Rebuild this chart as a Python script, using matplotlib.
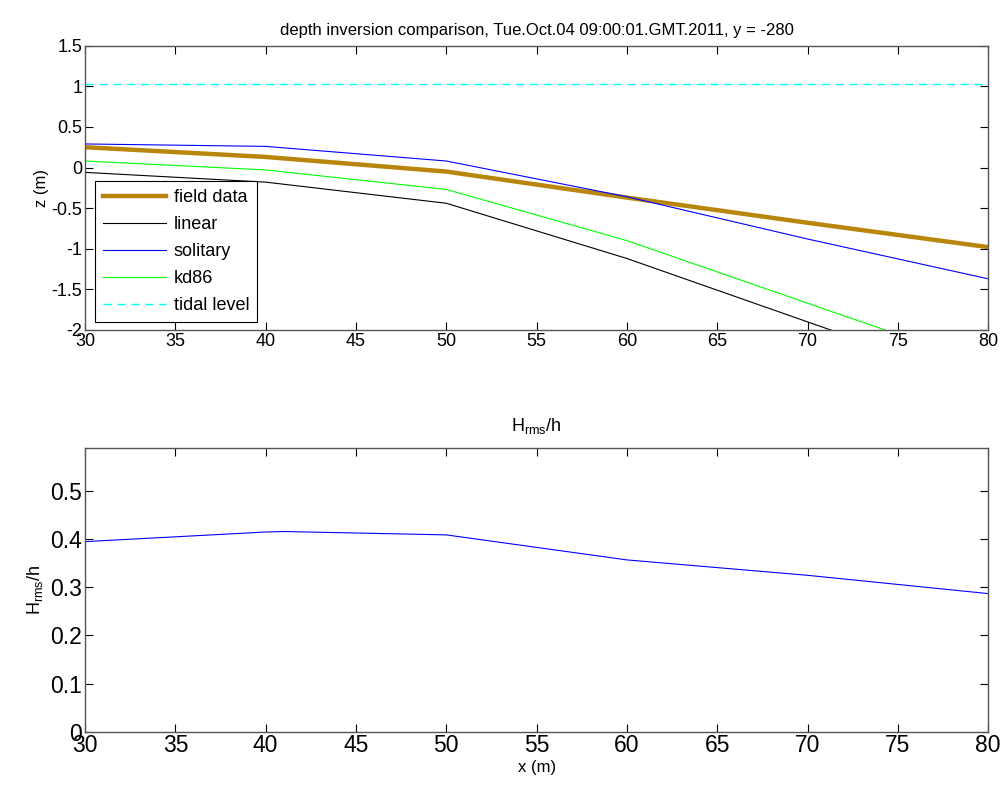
import matplotlib
matplotlib.use('Agg')
import matplotlib.pyplot as plt

plt.rcParams['font.family'] = ['Liberation Sans', 'DejaVu Sans']
plt.rcParams['mathtext.fontset'] = 'custom'
plt.rcParams['mathtext.rm'] = 'Liberation Sans'
plt.rcParams['mathtext.it'] = 'Liberation Sans:italic'

# cross-shore positions (m)
x = [30, 40, 50, 60, 70, 80]

# bed elevation z (m)
field_data = [0.25, 0.13, -0.05, -0.37, -0.68, -0.98]
linear = [-0.06, -0.18, -0.44, -1.12, -1.90, -2.68]
solitary = [0.29, 0.26, 0.08, -0.36, -0.88, -1.37]
kd86 = [0.08, -0.03, -0.27, -0.90, -1.67, -2.44]
tidal_level = 1.025

# Hrms/h
x_h = [30, 40, 41, 50, 60, 70, 80]
hrms_h = [0.395, 0.415, 0.416, 0.409, 0.357, 0.325, 0.287]

spine_col = '#555555'

fig = plt.figure(figsize=(10.04, 7.87), dpi=100, facecolor='white')
ax1 = fig.add_axes([0.0847, 0.5807, 0.8995, 0.3613])
ax2 = fig.add_axes([0.0847, 0.0703, 0.8995, 0.3607])

# top panel
ax1.plot(x, field_data, color='#B8860B', lw=3.2, label='field data')
ax1.plot(x, linear, color='black', lw=0.8, label='linear')
ax1.plot(x, solitary, color='blue', lw=0.8, label='solitary')
ax1.plot(x, kd86, color='#00FF00', lw=0.8, label='kd86')
ax1.axhline(tidal_level, color='cyan', lw=1.0, ls=(0, (6, 4)), label='tidal level')
ax1.set_xlim(30, 80)
ax1.set_ylim(-2, 1.5)
ax1.set_xticks(range(30, 81, 5))
ax1.set_yticks([-2, -1.5, -1, -0.5, 0, 0.5, 1, 1.5])
ax1.set_yticklabels(['-2', '-1.5', '-1', '-0.5', '0', '0.5', '1', '1.5'])
ax1.set_ylabel('z (m)', fontsize=12, labelpad=2)
ax1.set_title('depth inversion comparison, Tue.Oct.04 09:00:01.GMT.2011, y = -280',
              fontsize=12, pad=8)
leg = ax1.legend(loc='lower left', bbox_to_anchor=(0.011, 0.028), fontsize=13,
                 fancybox=False, framealpha=1, edgecolor='black',
                 handlelength=3.5, labelspacing=0.55, borderpad=0.45,
                 handletextpad=0.4, borderaxespad=0)
leg.get_frame().set_linewidth(0.8)
ax1.tick_params(labelsize=13, pad=2)

# bottom panel
ax2.plot(x_h, hrms_h, color='blue', lw=0.8)
ax2.set_xlim(30, 80)
ax2.set_ylim(0, 0.59)
ax2.set_xticks(range(30, 81, 5))
ax2.set_yticks([0, 0.1, 0.2, 0.3, 0.4, 0.5])
ax2.set_yticklabels(['0', '0.1', '0.2', '0.3', '0.4', '0.5'])
ax2.set_xlabel('x (m)', fontsize=12, labelpad=2)
ax2.set_ylabel(r'H$_{\rm rms}$/h', fontsize=13, labelpad=4)
ax2.set_title(r'H$_{\rm rms}$/h', fontsize=13, pad=12)
ax2.tick_params(labelsize=16.5, pad=2)

for ax in (ax1, ax2):
    ax.tick_params(direction='in', top=True, right=True, length=6, width=0.8,
                   colors='black', labelcolor='black')
    for s in ax.spines.values():
        s.set_color(spine_col)
        s.set_linewidth(1.0)

fig.savefig('out.png', dpi=100, facecolor='white')
